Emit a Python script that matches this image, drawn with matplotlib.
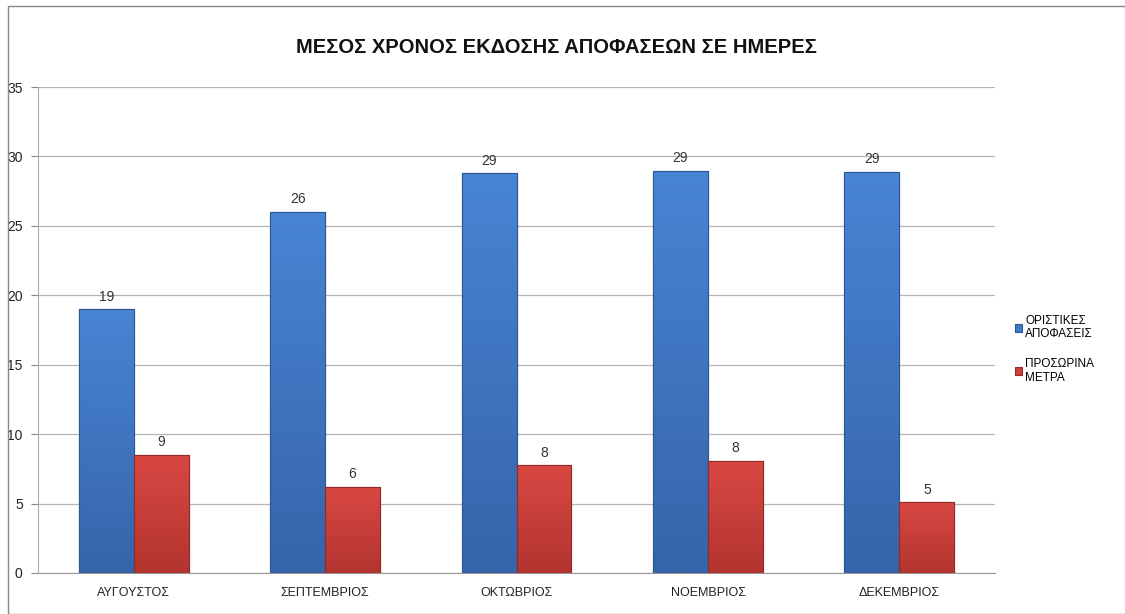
import matplotlib
matplotlib.use("Agg")
import matplotlib.pyplot as plt
import numpy as np
from matplotlib.patches import Rectangle
from matplotlib.colors import LinearSegmentedColormap

categories = ["ΑΥΓΟΥΣΤΟΣ", "ΣΕΠΤΕΜΒΡΙΟΣ", "ΟΚΤΩΒΡΙΟΣ", "ΝΟΕΜΒΡΙΟΣ", "ΔΕΚΕΜΒΡΙΟΣ"]
final_values = [19.0, 26.0, 28.8, 28.95, 28.9]
interim_values = [8.5, 6.2, 7.75, 8.1, 5.1]
final_labels = ["19", "26", "29", "29", "29"]
interim_labels = ["9", "6", "8", "8", "5"]
series_names = ["ΟΡΙΣΤΙΚΕΣ\nΑΠΟΦΑΣΕΙΣ", "ΠΡΟΣΩΡΙΝΑ\nΜΕΤΡΑ"]
title = "ΜΕΣΟΣ ΧΡΟΝΟΣ ΕΚΔΟΣΗΣ ΑΠΟΦΑΣΕΩΝ ΣΕ ΗΜΕΡΕΣ"

plt.rcParams["font.family"] = ["Liberation Sans", "DejaVu Sans"]

fig = plt.figure(figsize=(11.25, 6.14), dpi=100)
ax = fig.add_axes([0.0338, 0.0668, 0.8507, 0.7915])

x = np.arange(len(categories))
w = 0.287
blue = "#3f78c6"
red = "#cc403b"
b1 = ax.bar(x - w / 2, final_values, w, color=blue, edgecolor="#2d5792", linewidth=0.8,
            label=series_names[0], zorder=3)
b2 = ax.bar(x + w / 2, interim_values, w, color=red, edgecolor="#932a27", linewidth=0.8,
            label=series_names[1], zorder=3)

ax.set_xlim(-0.5, len(categories) - 0.5)
ax.set_ylim(0, 35)

# vertical gradient fill clipped to each bar
grad = np.linspace(1, 0, 256).reshape(-1, 1)
cm_blue = LinearSegmentedColormap.from_list("b", ["#3664a9", "#4885d4"])
cm_red = LinearSegmentedColormap.from_list("r", ["#b3342f", "#d94843"])
for bars, cm in ((b1, cm_blue), (b2, cm_red)):
    for p in bars:
        x0, y0 = p.get_x(), p.get_y()
        im = ax.imshow(grad, extent=(x0, x0 + p.get_width(), y0, y0 + p.get_height()),
                       cmap=cm, aspect="auto", zorder=3.5, origin="upper")
        im.set_clip_path(p)
        ax.add_patch(Rectangle((x0, y0), p.get_width(), p.get_height(), fill=False,
                               edgecolor=p.get_edgecolor(), linewidth=0.8, zorder=4))
ax.set_xlim(-0.5, len(categories) - 0.5)
ax.set_ylim(0, 35)
ax.set_aspect("auto")

ax.bar_label(b1, labels=final_labels, padding=4, fontsize=10, color="#333333")
ax.bar_label(b2, labels=interim_labels, padding=4, fontsize=10, color="#333333")

ax.set_yticks(np.arange(0, 36, 5))
ax.yaxis.grid(True, color="#b5b5b5", linewidth=0.9, zorder=0)
ax.set_axisbelow(True)
ax.set_xticks(x)
ax.set_xticklabels(categories, fontsize=9, color="#222222")
ax.tick_params(axis="x", length=0, pad=10)
ax.tick_params(axis="y", length=5, color="#888888", labelsize=10, labelcolor="#222222", pad=6)
for s in ["top", "right"]:
    ax.spines[s].set_visible(False)
ax.spines["left"].set_color("#aaaaaa")
ax.spines["bottom"].set_color("#999999")

fig.text(0.495, 0.922, title, ha="center", va="center", fontsize=14.5, fontweight="bold",
         color="#111111")

fig.legend(handles=[b1, b2], loc="upper left", bbox_to_anchor=(0.893, 0.505), frameon=False,
           fontsize=8.5, handlelength=0.55, handleheight=0.7, handletextpad=0.3,
           labelspacing=1.5)

fig.patches.append(Rectangle((0.007, 0.0), 1.2, 0.99, transform=fig.transFigure,
                             fill=False, edgecolor="#888888", linewidth=1.0))

fig.savefig("out.png", dpi=100)
